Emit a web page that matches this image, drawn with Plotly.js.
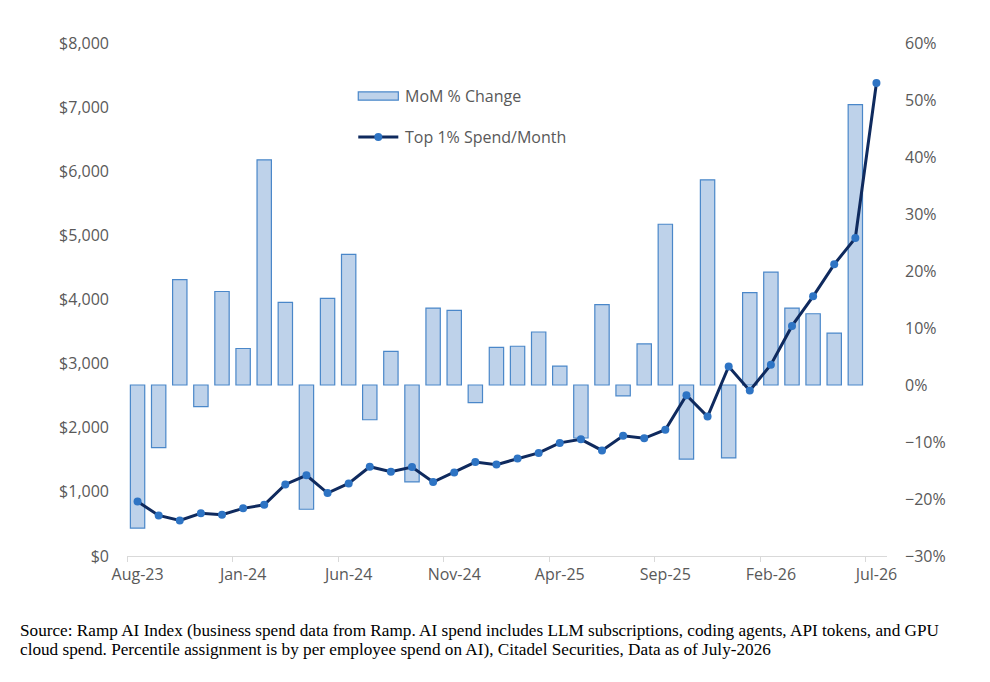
<!DOCTYPE html>
<html>
<head>
<meta charset="utf-8">
<script src="https://cdn.plot.ly/plotly-3.0.1.min.js"></script>
<style>
  html, body { margin: 0; padding: 0; background: #ffffff; }
  #chart { width: 990px; height: 682px; }
</style>
</head>
<body>
<div id="chart"></div>
<script>
const MONTHS = [
  'Aug-23', 'Sep-23', 'Oct-23', 'Nov-23', 'Dec-23',
  'Jan-24', 'Feb-24', 'Mar-24', 'Apr-24', 'May-24', 'Jun-24', 'Jul-24',
  'Aug-24', 'Sep-24', 'Oct-24', 'Nov-24', 'Dec-24',
  'Jan-25', 'Feb-25', 'Mar-25', 'Apr-25', 'May-25', 'Jun-25', 'Jul-25',
  'Aug-25', 'Sep-25', 'Oct-25', 'Nov-25', 'Dec-25',
  'Jan-26', 'Feb-26', 'Mar-26', 'Apr-26', 'May-26', 'Jun-26', 'Jul-26',
];

// Top 1% spend per month, USD
const TOP1_SPEND = [
  849, 632, 555, 666, 643,
  743, 799, 1115, 1259, 982, 1131, 1392,
  1314, 1387, 1154, 1303, 1464,
  1425, 1520, 1608, 1764, 1819, 1647, 1875,
  1836, 1969, 2507, 2174, 2956,
  2579, 2984, 3588, 4049, 4548, 4958, 7377,
];

// MoM % change (fraction), one bar per month Aug-23 .. Jun-26
const MOM_CHANGE = [
  -0.251, -0.110, 0.185, -0.038, 0.164,
  0.064, 0.395, 0.145, -0.218, 0.152, 0.229, -0.061,
  0.059, -0.170, 0.135, 0.131, -0.031,
  0.066, 0.068, 0.093, 0.033, -0.093, 0.141, -0.019,
  0.072, 0.282, -0.130, 0.360, -0.128,
  0.162, 0.198, 0.135, 0.125, 0.091, 0.492,
];

const LEGEND_BAR = 'MoM % Change';
const LEGEND_LINE = 'Top 1% Spend/Month';

const SOURCE_LINES = [
  'Source: Ramp AI Index (business spend data from Ramp. AI spend includes LLM subscriptions, coding agents, API tokens, and GPU',
  'cloud spend. Percentile assignment is by per employee spend on AI), Citadel Securities, Data as of July-2026',
];

const AXIS_FONT = { family: "'Open Sans', sans-serif", size: 16, color: '#595959' };
const SOURCE_FONT = { family: "'Liberation Serif', 'Times New Roman', serif", size: 17.2, color: '#000000' };
const BAR_FILL = '#bed2ea';
const BAR_EDGE = '#4a87c9';
const LINE_COLOR = '#0f2a5e';
const MARKER_COLOR = '#2e74c4';

const traces = [
  {
    x: MONTHS.slice(0, MOM_CHANGE.length),
    y: MOM_CHANGE,
    type: 'bar',
    name: LEGEND_BAR,
    yaxis: 'y',
    marker: { color: BAR_FILL, line: { color: BAR_EDGE, width: 1.2 } },
    showlegend: false,
    hoverinfo: 'skip',
  },
  {
    x: MONTHS,
    y: TOP1_SPEND,
    type: 'scatter',
    mode: 'lines+markers',
    name: LEGEND_LINE,
    yaxis: 'y2',
    line: { color: LINE_COLOR, width: 3 },
    marker: { color: MARKER_COLOR, size: 8 },
    showlegend: false,
    hoverinfo: 'skip',
  },
];

// legend drawn by hand so the bar key is a wide box like the original
const legX0 = 0.3043, legX1 = 0.3570, legTextX = 0.3636;
const legBarY = 0.8966, legLineY = 0.8167;

const layout = {
  width: 990,
  height: 682,
  paper_bgcolor: '#ffffff',
  plot_bgcolor: '#ffffff',
  margin: { l: 127, r: 103, t: 43, b: 126, pad: 0 },
  font: AXIS_FONT,
  bargap: 0.32,
  showlegend: false,
  xaxis: {
    type: 'category',
    categoryorder: 'array',
    categoryarray: MONTHS,
    range: [-0.5, MONTHS.length - 0.5],
    dtick: 5,
    tickangle: 0,
    tickson: 'boundaries',
    ticks: 'outside',
    ticklen: 5,
    tickcolor: '#d9d9d9',
    ticklabelstandoff: 4,
    showline: true,
    linecolor: '#d9d9d9',
    linewidth: 1,
    showgrid: false,
    tickfont: AXIS_FONT,
    fixedrange: true,
  },
  yaxis: {
    side: 'right',
    range: [-0.3, 0.6],
    dtick: 0.1,
    tickformat: '.0%',
    showgrid: false,
    zeroline: false,
    showline: false,
    ticks: '',
    ticklabelstandoff: 17,
    tickfont: AXIS_FONT,
    fixedrange: true,
  },
  yaxis2: {
    overlaying: 'y',
    side: 'left',
    range: [0, 8000],
    dtick: 1000,
    tickprefix: '$',
    tickformat: ',d',
    showgrid: false,
    zeroline: false,
    showline: false,
    ticks: '',
    ticklabelstandoff: 17,
    tickfont: AXIS_FONT,
    fixedrange: true,
  },
  shapes: [
    {
      type: 'rect', xref: 'paper', yref: 'paper',
      x0: legX0, x1: legX1, y0: legBarY - 0.008, y1: legBarY + 0.008,
      fillcolor: BAR_FILL, line: { color: BAR_EDGE, width: 1.2 },
    },
    {
      type: 'line', xref: 'paper', yref: 'paper',
      x0: legX0, x1: legX1, y0: legLineY, y1: legLineY,
      line: { color: LINE_COLOR, width: 3 },
    },
    {
      type: 'circle', xref: 'paper', yref: 'paper',
      xsizemode: 'pixel', ysizemode: 'pixel',
      xanchor: (legX0 + legX1) / 2, yanchor: legLineY,
      x0: -4, x1: 4, y0: -4, y1: 4,
      fillcolor: MARKER_COLOR, line: { color: MARKER_COLOR, width: 0 },
    },
  ],
  annotations: [
    {
      xref: 'paper', yref: 'paper', x: legTextX, y: legBarY,
      xanchor: 'left', yanchor: 'middle', showarrow: false,
      text: LEGEND_BAR, font: AXIS_FONT,
    },
    {
      xref: 'paper', yref: 'paper', x: legTextX, y: legLineY,
      xanchor: 'left', yanchor: 'middle', showarrow: false,
      text: LEGEND_LINE, font: AXIS_FONT,
    },
    {
      xref: 'paper', yref: 'paper', x: -0.143, y: -0.146,
      xanchor: 'left', yanchor: 'middle', showarrow: false,
      text: SOURCE_LINES[0], font: SOURCE_FONT,
    },
    {
      xref: 'paper', yref: 'paper', x: -0.143, y: -0.182,
      xanchor: 'left', yanchor: 'middle', showarrow: false,
      text: SOURCE_LINES[1], font: SOURCE_FONT,
    },
  ],
};

Plotly.newPlot('chart', traces, layout, { staticPlot: true, displayModeBar: false });
</script>
</body>
</html>
